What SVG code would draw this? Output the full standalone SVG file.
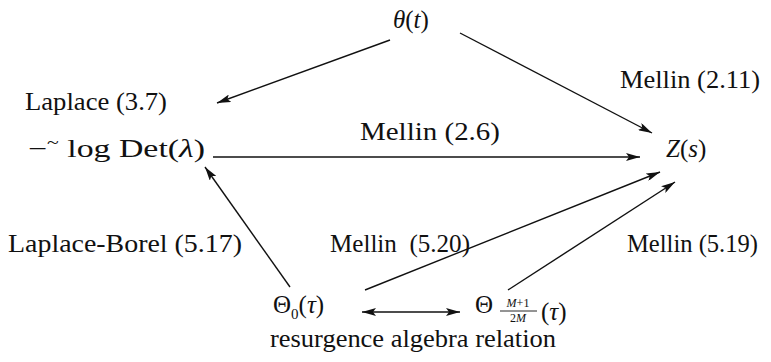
<svg xmlns="http://www.w3.org/2000/svg" width="771" height="362" viewBox="0 0 771 362">
<defs>
<style>
text{font-family:'Liberation Serif','Times New Roman',serif;font-size:25px;fill:#111}
.i{font-style:italic}
.s{font-size:12px}
.e{stroke:#111;stroke-width:1.4;fill:none}
</style>
<marker id="ah" viewBox="0 0 14 8" refX="14" refY="4" markerWidth="14" markerHeight="8" markerUnits="userSpaceOnUse" orient="auto-start-reverse">
<path d="M0,0 L14,4 L0,8 L3,4 Z" fill="#111"/>
</marker>
</defs>
<rect width="771" height="362" fill="#fff"/>
<g id="connectors">
<line class="e" x1="390" y1="40" x2="217" y2="103" marker-end="url(#ah)"/>
<line class="e" x1="460" y1="33" x2="652" y2="133" marker-end="url(#ah)"/>
<line class="e" x1="213" y1="157" x2="640" y2="157" marker-end="url(#ah)"/>
<line class="e" x1="290" y1="287" x2="205" y2="167" marker-end="url(#ah)"/>
<line class="e" x1="365" y1="290" x2="660" y2="172" marker-end="url(#ah)"/>
<line class="e" x1="508" y1="290" x2="675" y2="182" marker-end="url(#ah)"/>
<line class="e" x1="362" y1="312" x2="460" y2="312" marker-start="url(#ah)" marker-end="url(#ah)"/>
</g>
<g id="labels" font-family="Liberation Serif, serif">
<text x="25" y="110" textLength="142" lengthAdjust="spacingAndGlyphs">Laplace (3.7)</text>
<text x="620" y="88" textLength="140" lengthAdjust="spacingAndGlyphs">Mellin (2.11)</text>
<text x="360" y="140" textLength="140" lengthAdjust="spacingAndGlyphs">Mellin (2.6)</text>
<text x="8" y="252" textLength="234" lengthAdjust="spacingAndGlyphs">Laplace-Borel (5.17)</text>
<text x="330" y="252" textLength="140" lengthAdjust="spacingAndGlyphs" xml:space="preserve">Mellin  (5.20)</text>
<text x="627" y="252" textLength="131" lengthAdjust="spacingAndGlyphs">Mellin (5.19)</text>
<text x="270" y="347" textLength="286" lengthAdjust="spacingAndGlyphs">resurgence algebra relation</text>
</g>
<g id="theta" font-family="Liberation Serif, serif">
<text x="393" y="28" font-size="26"><tspan class="i">θ</tspan>(<tspan class="i">t</tspan>)</text>
</g>
<g id="logdet" font-family="Liberation Serif, serif">
<text x="28" y="157" font-size="27" textLength="177" lengthAdjust="spacingAndGlyphs">−<tspan dy="-9" font-size="16">~</tspan><tspan dy="9"> log Det(</tspan><tspan class="i">λ</tspan>)</text>
</g>
<g id="zs" font-family="Liberation Serif, serif">
<text x="666" y="157" font-size="26"><tspan class="i">Z</tspan>(<tspan class="i">s</tspan>)</text>
</g>
<g id="theta0" font-family="Liberation Serif, serif">
<text x="273" y="313" font-size="26">Θ<tspan font-size="15" dy="6">0</tspan><tspan dy="-6">(</tspan><tspan class="i">τ</tspan>)</text>
</g>
<g id="thetaM" font-family="Liberation Serif, serif">
<text x="475" y="313" font-size="26">Θ</text>
<text class="s i" x="518" y="307" text-anchor="middle">M<tspan font-style="normal">+1</tspan></text>
<line x1="500" y1="311" x2="537" y2="311" stroke="#111" stroke-width="0.9"/>
<text class="s" x="518" y="322" text-anchor="middle">2<tspan class="i">M</tspan></text>
<text x="541" y="320" font-size="26">(<tspan class="i">τ</tspan>)</text>
</g>
</svg>
